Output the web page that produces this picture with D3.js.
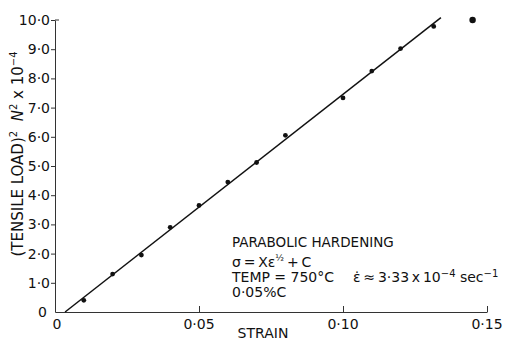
<!DOCTYPE html>
<html>
<head>
<meta charset="utf-8">
<script src="https://cdn.jsdelivr.net/npm/d3@7"></script>
<style>
  html, body { margin: 0; padding: 0; background: #fff; }
  svg { display: block; }
  text { font-family: "DejaVu Sans", sans-serif; fill: #111; white-space: pre; }
</style>
</head>
<body>
<svg id="chart" width="507" height="341"></svg>
<script>
// Strain readings and squared tensile load (N² × 10⁻⁴)
const strain = [0.01, 0.02, 0.03, 0.04, 0.05, 0.06, 0.07, 0.08, 0.10, 0.11, 0.12, 0.1315];
const load2  = [0.40, 1.30, 1.95, 2.90, 3.65, 4.45, 5.12, 6.05, 7.33, 8.25, 9.02, 9.78];
// Final reading, drawn off the fitted line
const lastStrain = [0.145];
const lastLoad2  = [10.0];
// Fitted straight line end points
const fitStrain = [0.0035, 0.134];
const fitLoad2  = [0.0, 10.08];
// Tick values and labels
const xTicks = [0, 0.05, 0.10, 0.15];
const xTickLabels = ["0", "0·05", "0·10", "0·15"];
const yTicks = [0, 1, 2, 3, 4, 5, 6, 7, 8, 9, 10];
const yTickLabels = ["0", "1·0", "2·0", "3·0", "4·0", "5·0", "6·0", "7·0", "8·0", "9·0", "10·0"];

const svg = d3.select("#chart");
const x = d3.scaleLinear().domain([0, 0.15]).range([55, 487]);
const y = d3.scaleLinear().domain([0, 10]).range([312, 20]);

// Axes
const xAxis = d3.axisBottom(x).tickValues(xTicks.slice(1)).tickSizeInner(-6).tickSizeOuter(0).tickFormat("");
const gx = svg.append("g").attr("transform", `translate(0,${y(0)})`).call(xAxis);
gx.select(".domain").attr("stroke", "#333").attr("stroke-width", 1);
gx.selectAll(".tick line").attr("stroke", "#333");

const yAxis = d3.axisLeft(y).tickValues(yTicks.slice(1)).tickSizeInner(4).tickSizeOuter(0).tickFormat("");
const gy = svg.append("g").attr("transform", `translate(${x(0)},0)`).call(yAxis);
gy.select(".domain").attr("stroke", "#333").attr("stroke-width", 1);
gy.selectAll(".tick line").attr("stroke", "#333");
// small hook at the top of the vertical axis
svg.append("line").attr("x1", x(0)).attr("x2", x(0) + 4)
  .attr("y1", y(10)).attr("y2", y(10)).attr("stroke", "#333");

// Tick labels
svg.append("g").selectAll("text").data(xTicks).join("text")
  .attr("x", (d, i) => x(d) + (i === 0 ? 2 : 0))
  .attr("y", y(0) + 17)
  .attr("text-anchor", "middle")
  .attr("font-size", 14)
  .text((d, i) => xTickLabels[i]);

svg.append("g").selectAll("text").data(yTicks).join("text")
  .attr("x", (d, i) => i === 0 ? x(0) - 8 : x(0) - 5)
  .attr("y", d => y(d) + 5)
  .attr("text-anchor", "end")
  .attr("font-size", 14)
  .text((d, i) => yTickLabels[i]);

// Axis titles
svg.append("text")
  .attr("x", 263)
  .attr("y", 338)
  .attr("text-anchor", "middle")
  .attr("font-size", 14)
  .text("STRAIN");

const yt = svg.append("text")
  .attr("transform", `translate(23,154) rotate(-90)`)
  .attr("text-anchor", "middle")
  .attr("font-size", 15);
yt.append("tspan").text("(TENSILE LOAD)");
yt.append("tspan").attr("dy", -6).attr("font-size", 10).text("2");
yt.append("tspan").attr("dy", 6).text("  ");
yt.append("tspan").attr("font-style", "italic").text("N");
yt.append("tspan").attr("dy", -6).attr("font-size", 10).text("2");
yt.append("tspan").attr("dy", 6).text(" x 10");
yt.append("tspan").attr("dy", -6).attr("font-size", 10).text("−4");

// Fitted line
const fit = fitStrain.map((d, i) => [d, fitLoad2[i]]);
svg.append("path")
  .datum(fit)
  .attr("d", d3.line().x(d => x(d[0])).y(d => y(d[1])))
  .attr("stroke", "#111").attr("stroke-width", 1.5).attr("fill", "none");

// Data points
svg.append("g").selectAll("circle").data(strain).join("circle")
  .attr("cx", d => x(d))
  .attr("cy", (d, i) => y(load2[i]))
  .attr("r", 2.4)
  .attr("fill", "#111");

svg.append("g").selectAll("circle").data(lastStrain).join("circle")
  .attr("cx", d => x(d))
  .attr("cy", (d, i) => y(lastLoad2[i]))
  .attr("r", 3.2)
  .attr("fill", "#111");

// Annotation block
const ax = 232;
const fs = 13;
svg.append("text").attr("x", ax).attr("y", 247).attr("font-size", fs + 0.5).text("PARABOLIC HARDENING");

const l2 = svg.append("text").attr("x", ax).attr("y", 267).attr("font-size", fs + 1);
l2.append("tspan").text("σ\u2009=\u2009Xε");
l2.append("tspan").attr("dy", -6).attr("font-size", 9).text("½");
l2.append("tspan").attr("dy", 6).text("\u2009+\u2009C");

const l3 = svg.append("text").attr("y", 282).attr("font-size", fs + 1);
l3.append("tspan").attr("x", ax).text("TEMP = 750°C");
l3.append("tspan").attr("x", 353).text("ε̇\u2009≈\u20093·33\u2009x\u200910");
l3.append("tspan").attr("dy", -5).attr("font-size", 10).text("−4");
l3.append("tspan").attr("dy", 5).text(" sec");
l3.append("tspan").attr("dy", -5).attr("font-size", 10).text("−1");

svg.append("text").attr("x", ax).attr("y", 297).attr("font-size", fs + 1).text("0·05%C");
</script>
</body>
</html>
